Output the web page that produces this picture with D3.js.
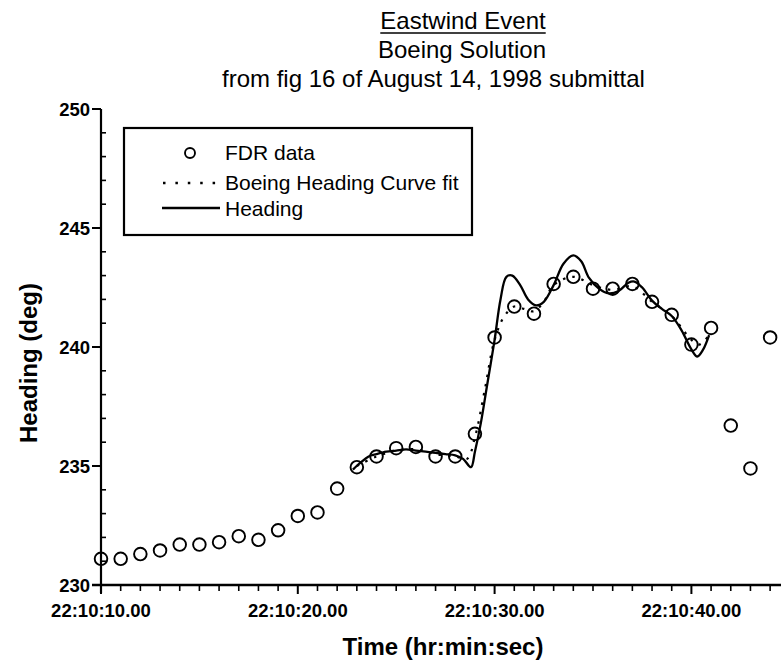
<!DOCTYPE html>
<html><head><meta charset="utf-8">
<script src="https://cdn.jsdelivr.net/npm/d3@7"></script>
<style>body{margin:0;background:#fff}svg{display:block}</style>
</head><body>
<svg id="c" width="781" height="666"></svg>
<script>
// Time in seconds after 22:10:00
const fdrTime = [10,11,12,13,14,15,16,17,18,19,20,21,22,23,24,25,26,27,28,29,30,31,32,33,34,35,36,37,38,39,40,41,42,43,44];
const fdrHeading = [231.1,231.1,231.3,231.45,231.7,231.7,231.8,232.05,231.9,232.3,232.9,233.05,234.05,234.95,235.4,235.75,235.8,235.4,235.4,236.35,240.4,241.7,241.4,242.65,242.95,242.45,242.45,242.65,241.9,241.35,240.1,240.8,236.7,234.9,240.4];

const fitTime = [23,24,25,26,27,28,28.6,29,29.5,30,30.5,31,31.5,32,32.5,33,34,35,36,37,38,39,40,40.4,41];
const fitHeading = [235.0,235.4,235.65,235.7,235.5,235.4,235.3,236.2,238.2,240.3,241.3,241.7,241.6,241.5,241.9,242.6,242.95,242.6,242.4,242.55,241.9,241.3,240.3,240.1,240.6];

const headTime = [22.8,23.2,23.6,24,24.5,25,25.5,26,26.5,27,27.5,28,28.4,28.8,29.0,29.3,29.6,30.0,30.3,30.6,30.9,31.3,31.7,32.1,32.5,33.0,33.5,34.0,34.4,34.8,35.3,35.8,36.3,36.8,37.1,37.5,38.0,38.5,39.0,39.5,40.0,40.3,40.6,40.9];
const headHeading = [234.85,235.15,235.4,235.5,235.6,235.65,235.7,235.65,235.6,235.55,235.5,235.45,235.3,234.95,235.6,236.8,238.3,240.3,242.0,242.95,243.0,242.6,242.0,241.75,241.9,242.6,243.5,243.85,243.6,242.9,242.45,242.25,242.35,242.7,242.75,242.5,241.95,241.6,241.3,240.7,239.9,239.6,239.9,240.5];

const xTickValues = [10,20,30,40];
const xTickLabels = ["22:10:10.00","22:10:20.00","22:10:30.00","22:10:40.00"];
const yTickValues = [230,235,240,245,250];
const titleLines = ["Eastwind Event","Boeing Solution","from fig 16 of August 14, 1998 submittal"];
const legendLabels = ["FDR data","Boeing Heading Curve fit","Heading"];

const svg = d3.select("#c");
const font = "'Liberation Sans', Arial, Helvetica, sans-serif";
const x = d3.scaleLinear().domain([10,45]).range([101, 101+35*19.68]);
const y = d3.scaleLinear().domain([230,250]).range([585,109]);

// Titles
const tl = svg.append("g").attr("font-family", font).attr("fill","#000");
const t1 = tl.append("text").attr("x",463).attr("y",29).attr("text-anchor","middle").attr("font-size",24).text(titleLines[0]);
const w1 = t1.node().getComputedTextLength();
tl.append("line").attr("x1",463-w1/2).attr("x2",463+w1/2).attr("y1",33).attr("y2",33).attr("stroke","#000").attr("stroke-width",1.6);
tl.append("text").attr("x",462).attr("y",58).attr("text-anchor","middle").attr("font-size",24).text(titleLines[1]);
tl.append("text").attr("x",222).attr("y",87).attr("text-anchor","start").attr("font-size",24).text(titleLines[2]);

// Y axis
const yMinor = d3.range(230,251,1).filter(v=>v%5!==0);
const yAxis = svg.append("g").attr("stroke","#000");
yAxis.append("line").attr("x1",x(10)).attr("x2",x(10)).attr("y1",y(250)).attr("y2",y(230)+8).attr("stroke-width",2.2);
yAxis.selectAll("line.maj").data(yTickValues).join("line").attr("class","maj")
  .attr("x1",x(10)-9).attr("x2",x(10)).attr("y1",d=>y(d)).attr("y2",d=>y(d)).attr("stroke-width",2);
yAxis.selectAll("line.min").data(yMinor).join("line").attr("class","min")
  .attr("x1",x(10)).attr("x2",x(10)+5).attr("y1",d=>y(d)).attr("y2",d=>y(d)).attr("stroke-width",1.6);
svg.append("g").selectAll("text").data(yTickValues).join("text")
  .attr("x",90).attr("y",d=>y(d)+7).attr("text-anchor","end")
  .attr("font-family",font).attr("font-weight","bold").attr("font-size",18.5).text(d=>d);

// X axis
const xMinor = d3.range(11,46,1).filter(v=>v%10!==0);
const xAxis = svg.append("g").attr("stroke","#000");
xAxis.append("line").attr("x1",x(10)-9).attr("x2",781).attr("y1",y(230)).attr("y2",y(230)).attr("stroke-width",2.6);
xAxis.selectAll("line.maj").data(xTickValues).join("line").attr("class","maj")
  .attr("x1",d=>x(d)).attr("x2",d=>x(d)).attr("y1",y(230)).attr("y2",y(230)+9).attr("stroke-width",2);
xAxis.selectAll("line.min").data(xMinor).join("line").attr("class","min")
  .attr("x1",d=>x(d)).attr("x2",d=>x(d)).attr("y1",y(230)).attr("y2",y(230)+6).attr("stroke-width",1.6);
svg.append("g").selectAll("text").data(xTickValues).join("text")
  .attr("x",d=>x(d)).attr("y",617).attr("text-anchor","middle")
  .attr("font-family",font).attr("font-weight","bold").attr("font-size",18.5).text((d,i)=>xTickLabels[i]);

// Axis titles
svg.append("text").attr("transform","translate(37,363) rotate(-90)").attr("text-anchor","middle")
  .attr("font-family",font).attr("font-weight","bold").attr("font-size",24).text("Heading (deg)");
svg.append("text").attr("x",443).attr("y",655).attr("text-anchor","middle")
  .attr("font-family",font).attr("font-weight","bold").attr("font-size",24).text("Time (hr:min:sec)");

// Lines
const line = d3.line().x(d=>x(d[0])).y(d=>y(d[1])).curve(d3.curveCatmullRom.alpha(0.5));
svg.append("path").datum(fitTime.map((t,i)=>[t,fitHeading[i]])).attr("d",line)
  .attr("fill","none").attr("stroke","#000").attr("stroke-width",2.2).attr("stroke-dasharray","2.5,7");
svg.append("path").datum(headTime.map((t,i)=>[t,headHeading[i]])).attr("d",line)
  .attr("fill","none").attr("stroke","#000").attr("stroke-width",2.3);

// Points
svg.append("g").selectAll("circle").data(fdrTime.map((t,i)=>[t,fdrHeading[i]])).join("circle")
  .attr("cx",d=>x(d[0])).attr("cy",d=>y(d[1])).attr("r",6.3)
  .attr("fill","none").attr("stroke","#000").attr("stroke-width",1.9);

// Legend
const lg = svg.append("g");
lg.append("rect").attr("x",124).attr("y",128).attr("width",348).attr("height",107)
  .attr("fill","#fff").attr("stroke","#000").attr("stroke-width",2.2);
lg.append("circle").attr("cx",190).attr("cy",153).attr("r",5).attr("fill","none").attr("stroke","#000").attr("stroke-width",1.9);
lg.append("line").attr("x1",163).attr("x2",220).attr("y1",183).attr("y2",183).attr("stroke","#000").attr("stroke-width",2.4).attr("stroke-dasharray","2.5,9.9");
lg.append("line").attr("x1",162).attr("x2",220).attr("y1",208).attr("y2",208).attr("stroke","#000").attr("stroke-width",2.4);
lg.selectAll("text").data(legendLabels).join("text")
  .attr("x",225).attr("y",(d,i)=>[160,190,216][i]).attr("font-family",font).attr("font-size",21).text(d=>d);
</script>
</body></html>
